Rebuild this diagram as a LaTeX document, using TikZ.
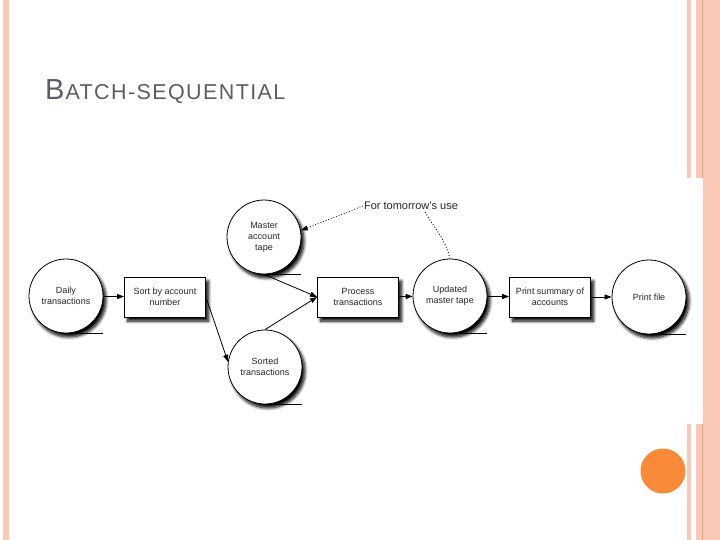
\documentclass[tikz,border=0pt]{standalone}
\usepackage{fontspec}
\setmainfont{Liberation Sans}
\usetikzlibrary{arrows.meta,shadows.blur}
\definecolor{slidepink}{HTML}{FAC9B6}
\definecolor{slideline}{HTML}{EFA585}
\definecolor{slideorange}{HTML}{F98A3A}
\definecolor{titlegray}{HTML}{595D65}
\begin{document}
\begin{tikzpicture}[x=1pt, y=-1pt,
    every node/.style={font=\fontsize{9}{11}\selectfont, align=center, text=black!85},
    store/.style={circle, draw, fill=white, line width=0.8pt, minimum size=74pt, inner sep=1pt,
      blur shadow={shadow xshift=3pt, shadow yshift=-4pt, shadow blur radius=3pt, shadow blur steps=8, shadow opacity=100}},
    job/.style={rectangle, draw, fill=white, line width=0.8pt, minimum width=81pt, minimum height=40pt,
      blur shadow={shadow xshift=3pt, shadow yshift=-4pt, shadow blur radius=3pt, shadow blur steps=8, shadow opacity=100}},
    flow/.style={-{Triangle[length=7pt,width=5pt]}, line width=0.8pt},
    note/.style={dotted, line width=0.9pt}]
    \useasboundingbox (0,0) rectangle (720,540);

    % --- slide frame ---
    \fill[slidepink] (3,0) rectangle (9,540);
    \fill[slidepink] (703,0) rectangle (720,540);
    \foreach \ya/\yb in {0/178, 424/540} {
        \fill[slidepink] (687,\ya) rectangle (691,\yb);
        \fill[slidepink] (696,\ya) rectangle (702,\yb);
        \fill[slideline] (702,\ya) rectangle (703,\yb);
    }
    \fill[slideorange] (663,471) circle (22.5);

    % --- title ---
    \node[anchor=base west, inner sep=0, text=titlegray] (title) at (45,100)
        {{\fontsize{29}{30}\selectfont B\kern1pt}\fontsize{21.5}{30}\selectfont\addfontfeatures{LetterSpace=6.5}ATCH-SEQUENTIAL};

    % --- files and jobs ---
    \node[store] (daily) at (66,296) {Daily\\transactions};
    \node[job] (sort) at (165,297) {Sort by account\\number};
    \node[store] (master) at (264,237) {Master\\account\\tape};
    \node[store] (sorted) at (265,367) {Sorted\\transactions};
    \node[job] (process) at (358,297) {Process\\transactions};
    \node[store] (updated) at (450,296) {Updated\\master tape};
    \node[job] (summary) at (550,297) {Print summary of\\accounts};
    \node[store] (printfile) at (649,297) {Print file};
    \node[font=\fontsize{11}{13}\selectfont, inner sep=1pt] (tomorrow) at (411,206) {For tomorrow's use};

    % --- tape marks ---
    \foreach \n in {daily,master,sorted,updated,printfile}
        \draw[line width=0.8pt] (\n.south) -- (\n.south -| \n.east);

    % --- data flow ---
    \draw[flow] (daily) -- (sort);
    \draw[flow] (sort.east) -- (sorted.172);
    \draw[flow] (master.south) -- (process.west);
    \draw[flow] (sorted.north) -- (process.west);
    \draw[flow] (process) -- (updated);
    \draw[flow] (updated) -- (summary);
    \draw[flow] (summary) -- (printfile);

    % --- reuse note ---
    \draw[note, flow] (tomorrow.west) -- (master.10);
    \draw[note] (updated.north) .. controls +(-5,-22) and +(5,12) .. (tomorrow.-20);
\end{tikzpicture}
\end{document}
